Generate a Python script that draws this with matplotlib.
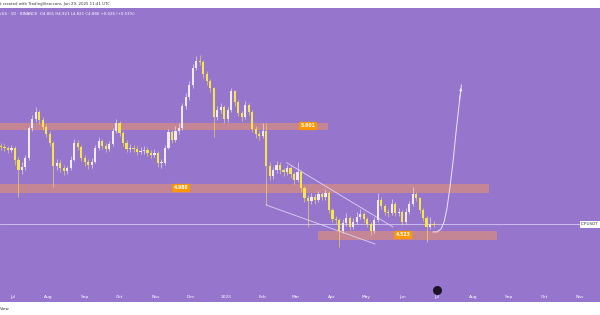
import numpy as np
import pandas as pd
import matplotlib
matplotlib.use("Agg")
import matplotlib.pyplot as plt
import matplotlib.transforms as mtransforms
from matplotlib.patches import Rectangle

# ---- data ----
t0 = pd.Timestamp("2024-07-01")
first_day = -10      # first candle, days after t0
step = 3             # one candle per 3 days

closes = [5.393, 5.383, 5.364, 5.383, 5.265, 5.166, 5.195, 5.284, 5.581, 5.670,
          5.739, 5.660, 5.591, 5.522, 5.433, 5.205, 5.235, 5.186, 5.156, 5.186,
          5.265, 5.433, 5.393, 5.284, 5.245, 5.215, 5.245, 5.383, 5.453, 5.403,
          5.373, 5.423, 5.551, 5.630, 5.532, 5.433, 5.373, 5.383, 5.373, 5.344,
          5.354, 5.364, 5.334, 5.314, 5.334, 5.235, 5.235, 5.383, 5.542, 5.462,
          5.551, 5.581, 5.799, 5.888, 6.006, 6.172, 6.244, 6.234, 6.115, 6.046,
          5.977, 5.690, 5.759, 5.789, 5.670, 5.759, 5.947, 5.838, 5.729, 5.690,
          5.808, 5.739, 5.571, 5.522, 5.502, 5.551, 5.205, 5.106, 5.166, 5.215,
          5.166, 5.146, 5.186, 5.126, 5.067, 5.146, 4.988, 4.889, 4.859, 4.899,
          4.869, 4.928, 4.899, 4.938, 4.770, 4.681, 4.671, 4.562, 4.642, 4.691,
          4.602, 4.651, 4.701, 4.730, 4.681, 4.632, 4.562, 4.671, 4.869, 4.810,
          4.750, 4.740, 4.829, 4.740, 4.750, 4.651, 4.750, 4.829, 4.928, 4.889,
          4.770, 4.691, 4.602, 4.632, 4.622]
highs = [5.43, 5.42, 5.40, 5.41, 5.40, 5.29, 5.24, 5.31, 5.60, 5.71,
         5.79, 5.76, 5.69, 5.62, 5.55, 5.45, 5.27, 5.26, 5.22, 5.21,
         5.30, 5.47, 5.46, 5.41, 5.31, 5.27, 5.28, 5.41, 5.49, 5.47,
         5.43, 5.45, 5.58, 5.67, 5.65, 5.55, 5.46, 5.42, 5.41, 5.40,
         5.39, 5.40, 5.39, 5.36, 5.37, 5.35, 5.27, 5.41, 5.57, 5.56,
         5.60, 5.63, 5.83, 5.93, 6.05, 6.21, 6.29, 6.303, 6.25, 6.14,
         6.07, 5.99, 5.80, 5.83, 5.81, 5.79, 5.98, 5.96, 5.86, 5.75,
         5.85, 5.83, 5.76, 5.60, 5.55, 5.631, 5.631, 5.24, 5.20, 5.25,
         5.24, 5.19, 5.22, 5.21, 5.15, 5.24, 5.17, 5.01, 4.92, 4.94,
         4.93, 4.96, 4.95, 4.98, 4.96, 4.79, 4.71, 4.69, 4.68, 4.74,
         4.71, 4.69, 4.75, 4.78, 4.75, 4.70, 4.65, 4.70, 4.94, 4.90,
         4.83, 4.78, 4.88, 4.85, 4.79, 4.77, 4.79, 4.86, 4.998, 4.95,
         4.90, 4.79, 4.71, 4.70, 4.66]
lows = [5.36, 5.35, 5.33, 5.34, 5.22, 4.899, 5.13, 5.17, 5.26, 5.55,
        5.64, 5.62, 5.56, 5.49, 5.40, 4.998, 5.17, 5.15, 5.12, 5.13,
        5.17, 5.25, 5.36, 5.25, 5.21, 5.18, 5.19, 5.23, 5.36, 5.37,
        5.34, 5.35, 5.40, 5.53, 5.50, 5.40, 5.34, 5.34, 5.34, 5.31,
        5.32, 5.32, 5.30, 5.28, 5.29, 5.20, 5.19, 5.22, 5.37, 5.43,
        5.44, 5.52, 5.56, 5.77, 5.86, 5.98, 6.15, 6.20, 6.08, 6.01,
        5.94, 5.492, 5.66, 5.73, 5.63, 5.64, 5.74, 5.80, 5.70, 5.65,
        5.67, 5.71, 5.54, 5.48, 5.46, 5.48, 4.820, 5.07, 5.08, 5.14,
        5.13, 5.11, 5.12, 5.09, 5.03, 5.05, 4.95, 4.85, 4.602, 4.83,
        4.83, 4.85, 4.87, 4.87, 4.74, 4.65, 4.63, 4.404, 4.54, 4.61,
        4.57, 4.58, 4.63, 4.68, 4.65, 4.60, 4.52, 4.54, 4.65, 4.78,
        4.72, 4.70, 4.72, 4.71, 4.71, 4.62, 4.63, 4.73, 4.81, 4.86,
        4.74, 4.66, 4.454, 4.58, 4.60]
open0 = 5.40

band_start = ["2024-06-10", "2024-06-10", "2025-03-21"]
band_end = ["2025-03-28", "2025-08-14", "2025-08-21"]
band_lo = [5.571, 4.948, 4.483]
band_hi = [5.630, 5.027, 4.562]
label_text = ["5.601", "4.988", "4.523"]
label_date = ["2025-03-12", "2024-11-23", "2025-06-02"]
label_price = [5.601, 4.988, 4.523]

wedge_up_days = [235.7, 327.1]
wedge_up_price = [5.238, 4.602]
wedge_lo_days = [217.9, 311.6]
wedge_lo_price = [4.820, 4.434]

proj_days = [361.5, 365.0, 368.4, 371.0, 373.6, 376.3, 378.9, 381.5, 384.1, 385.9]
proj_price = [4.553, 4.553, 4.582, 4.651, 4.790, 5.017, 5.265, 5.561, 5.828, 6.006]

last_price = 4.627
months = ["2024-07", "2024-08", "2024-09", "2024-10", "2024-11", "2024-12", "2025-01",
          "2025-02", "2025-03", "2025-04", "2025-05", "2025-06", "2025-07", "2025-08",
          "2025-09", "2025-10", "2025-11"]
month_labels = ["Jul", "Aug", "Sep", "Oct", "Nov", "Dec", "2025", "Feb", "Mar", "Apr",
                "May", "Jun", "Jul", "Aug", "Sep", "Oct", "Nov"]

def day(s):
    return (pd.Timestamp(s) - t0).days

bg = "#9676cc"
up_col = "#efeaff"
down_col = "#f7e64a"

fig = plt.figure(figsize=(6, 3.15), dpi=100)
fig.patch.set_facecolor("white")
ax = fig.add_axes([0, 13 / 315, 1, 294 / 315])
ax.set_facecolor(bg)
for s in ax.spines.values():
    s.set_visible(False)
ax.set_xticks([])
ax.set_yticks([])
ax.set_xlim(-10.83, 505.1)
ax.set_ylim(3.860, 6.768)

# bands
for s, e, lo, hi in zip(band_start, band_end, band_lo, band_hi):
    ax.add_patch(Rectangle((day(s), lo), day(e) - day(s), hi - lo,
                           facecolor="#eb9468", edgecolor="#eb9468", alpha=0.55, lw=0.5, zorder=1))

# last price line
ax.axhline(last_price, color="#cbbcef", lw=0.7, zorder=1)

# candles
days = first_day + step * np.arange(len(closes))
opens = [open0] + closes[:-1]
for d, o, c, h, l in zip(days, opens, closes, highs, lows):
    col = up_col if c >= o else down_col
    ax.vlines(d, l, h, color=col, lw=0.6, alpha=0.7, zorder=3)
    ax.bar(d, max(abs(c - o), 0.006), bottom=min(o, c), width=1.9, color=col,
           edgecolor="none", zorder=3)

# wedge lines
ax.plot(wedge_up_days, wedge_up_price, color="#ddd3f7", lw=0.6, zorder=2)
ax.plot(wedge_lo_days, wedge_lo_price, color="#ddd3f7", lw=0.6, zorder=2)

# projection curve
ax.plot(proj_days, proj_price, color="#ece6fb", lw=0.7, zorder=4)
ax.annotate("", xy=(proj_days[-1], proj_price[-1]), xytext=(proj_days[-2], proj_price[-2]),
            arrowprops=dict(arrowstyle="-|>", color="#ece6fb", lw=0.6, mutation_scale=4))

# price labels
for t, d, p in zip(label_text, label_date, label_price):
    ax.text(day(d), p, t, fontsize=3.3, color="white", ha="center", va="center",
            fontweight="bold", zorder=6,
            bbox=dict(boxstyle="round,pad=0.35", fc="#ff9800", ec="none"))

# month labels
trans = mtransforms.blended_transform_factory(ax.transData, ax.transAxes)
for m, lab in zip(months, month_labels):
    ax.text(day(m + "-01"), 0.017, lab, transform=trans, fontsize=3.2,
            color="white", ha="center", va="center")

# event marker
ax.scatter([day("2025-07-01")], [0.041], transform=trans, s=30, color="#1c1424", zorder=7)

# symbol label on the right
ax.text(0.998, last_price, "ICPUSDT", transform=mtransforms.blended_transform_factory(ax.transAxes, ax.transData),
        fontsize=3.0, color="#333333", ha="right", va="center",
        bbox=dict(boxstyle="square,pad=0.3", fc="white", ec="none"))

# header texts
ax.text(0.0, 0.979, "rUS · 1D · BINANCE  O4.861 H4.921 L4.821 C4.886 +0.026 (+0.53%)",
        transform=ax.transAxes, fontsize=2.8, color="white", ha="left", va="center")
fig.text(0.0, 1 - 4 / 315, "t created with TradingView.com, Jun 29, 2025 11:41 UTC",
         fontsize=2.8, color="#333333", ha="left", va="center")
fig.text(0.0, 1 - 309 / 315, "View", fontsize=3.0, color="#333333", ha="left", va="center")

fig.savefig("out.png", dpi=100, facecolor="white")
